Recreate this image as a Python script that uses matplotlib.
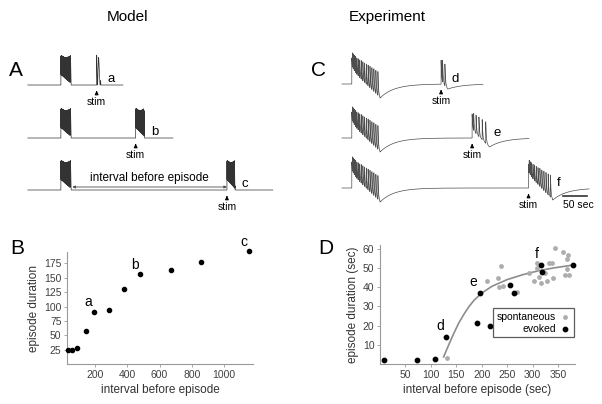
import numpy as np
import matplotlib
matplotlib.use("Agg")
import matplotlib.pyplot as plt

plt.rcParams['font.family'] = ['Liberation Sans', 'DejaVu Sans']

# panel B: model
model_interval = [33, 57, 89, 140, 190, 283, 382, 479, 670, 860, 1155]
model_duration = [25, 25, 27, 58, 90, 94, 131, 156, 164, 178, 196]
model_marks = {'a': 4, 'b': 7, 'c': 10}

# panel D: experiment
evoked_interval = [8, 72, 108, 130, 191, 196, 217, 255, 263, 316, 319, 380]
evoked_duration = [2, 2, 2.5, 14, 21.5, 37, 20, 41, 37, 51.5, 48, 51.5]
evoked_marks = {'d': 3, 'e': 5, 'f': 9}
spont_interval = [131, 210, 231, 237, 234, 242, 270, 293, 302, 308, 309, 313, 316,
                  321, 324, 328, 331, 337, 340, 343, 360, 367, 370, 367, 364, 371]
spont_duration = [3, 43, 45, 51, 40, 40.5, 37.5, 47.5, 43, 52.5, 50, 45.5, 42,
                  48, 47.5, 43, 52.5, 52.5, 45, 60.5, 58.5, 54.5, 57, 49.5, 46.5, 46.5]
fit_interval = [125, 135, 145, 155, 165, 175, 185, 200, 220, 250, 280, 310, 340, 380]
fit_duration = [3.7, 10, 16, 21.5, 26, 30, 33.3, 37, 40.5, 44, 46.5, 48.5, 50, 51.6]

# traces (A: model time units, C: seconds), t=0 is end of first episode
model_spont_len = 75
model_evoked_len = [30, 65, 60]
exp_spont_len = 60

W, H = 602, 404
fig = plt.figure(figsize=(W / 100, H / 100), dpi=100)


def px_axes(x0, y0, x1, y1):
    return fig.add_axes([x0 / W, 1 - y1 / H, (x1 - x0) / W, (y1 - y0) / H])


def model_burst(t, start, dur, period, bot0, bot1, top=30):
    y = np.zeros_like(t)
    m = (t >= start) & (t <= start + dur)
    ph = (t[m] - start) / dur
    osc = 0.5 + 0.5 * np.cos(2 * np.pi * (t[m] - start) / period * (1 - 0.35 * ph))
    bot = top * (bot0 + (bot1 - bot0) * ph)
    y[m] = bot + (top * (1 - 0.08 * np.sin(np.pi * ph)) - bot) * osc
    return y


def exp_episode(t, start, dur, n, amp0, amp1, lev0, lev1, tau_rec=30):
    y = np.zeros_like(t)
    m = (t >= start) & (t <= start + dur)
    ph = (t[m] - start) / dur
    y[m] = lev0 + (lev1 - lev0) * ph
    for k in range(n):
        tk = start + dur * (k / n) ** 1.35
        s = m & (t >= tk)
        a = amp0 + (amp1 - amp0) * k / max(n - 1, 1)
        y[s] += a * np.exp(-(t[s] - tk) / 1.3)
    after = t > start + dur
    y[after] += lev1 * np.exp(-(t[after] - start - dur) / tau_rec)
    return y


# ---- A ----
axA = px_axes(20, 45, 295, 215)
scaleA = 0.135
axA.set_xlim((20 - 71) / scaleA, (295 - 71) / scaleA)
axA.set_ylim(-(215 - 85), 85 - 45)
axA.axis('off')
row_offA = [0, -53, -105]
row_endA = [385, 755, 1495]
for i, lab in enumerate(['a', 'b', 'c']):
    stim = model_interval[model_marks[lab]]
    t = np.arange(-320, row_endA[i], 0.2)
    y = model_burst(t, -model_spont_len, model_spont_len, 2.5, 0.35, 0.05)
    if i == 0:
        y += model_burst(t, stim, model_evoked_len[i], 12, 0.0, 0.0)
    else:
        y += model_burst(t, stim, model_evoked_len[i], 2.5, 0.35, 0.05)
    axA.plot(t, y + row_offA[i], color='0.2', lw=0.5)
    off = row_offA[i]
    axA.annotate('', xy=(stim, off - 3), xytext=(stim, off - 10),
                 arrowprops=dict(arrowstyle='-|>', lw=0.8, color='k', mutation_scale=5))
    axA.text(stim, off - 17, 'stim', fontsize=7.5, ha='center', va='center')
    axA.text(stim + model_evoked_len[i] + 50, off + 6, lab, fontsize=9.5, ha='left', va='center')
axA.annotate('', xy=(10, row_offA[2] + 3), xytext=(model_interval[10], row_offA[2] + 3),
             arrowprops=dict(arrowstyle='<|-|>', lw=0.6, color='0.3', mutation_scale=4,
                             shrinkA=0, shrinkB=0))
axA.text((10 + model_interval[10]) / 2, row_offA[2] + 12, 'interval before episode',
         fontsize=8.5, ha='center', va='center')

# ---- C ----
axC = px_axes(300, 45, 602, 215)
scaleC = 0.47
axC.set_xlim((300 - 380) / scaleC, (602 - 380) / scaleC)
axC.set_ylim(-(215 - 84), 84 - 45)
axC.axis('off')
row_offC = [0, -54, -104]
row_endC = [219, 317, 445]
for i, lab in enumerate(['d', 'e', 'f']):
    k = evoked_marks[lab]
    stim = evoked_interval[k]
    dur = evoked_duration[k]
    t = np.arange(-81, row_endC[i], 0.04)
    y = exp_episode(t, -exp_spont_len, exp_spont_len, 18, 14, 24, 12, -14)
    n = [3, 6, 14][i]
    lev1 = [-5, -9, -12][i]
    lev0 = [2, 8, 12][i]
    y += exp_episode(t, stim, dur, n, 24 - lev0, 22, lev0, lev1)
    off = row_offC[i]
    axC.plot(t, y + off, color='0.3', lw=0.5)
    axC.annotate('', xy=(stim, off - 3), xytext=(stim, off - 10),
                 arrowprops=dict(arrowstyle='-|>', lw=0.8, color='k', mutation_scale=5))
    axC.text(stim, off - 17, 'stim', fontsize=7.5, ha='center', va='center')
    axC.text(stim + dur + 8, off + 5, lab, fontsize=9.5, ha='left', va='center')
axC.plot([390, 440], [row_offC[2] - 8, row_offC[2] - 8], color='0.2', lw=1.2)
axC.text(390, row_offC[2] - 17, '50 sec', fontsize=7.5, ha='left', va='center')

# ---- B ----
axB = px_axes(67, 252, 253, 364)
axB.scatter(model_interval, model_duration, s=9, color='k', zorder=3, clip_on=False)
for lab, k in model_marks.items():
    axB.text(model_interval[k] - 10, model_duration[k] + 5, lab, fontsize=10,
             ha='right', va='bottom')
axB.set_xlim(25, 1180)
axB.set_ylim(0, 195)
axB.set_xticks([200, 400, 600, 800, 1000])
axB.set_yticks([25, 50, 75, 100, 125, 150, 175])
axB.set_xlabel('interval before episode', fontsize=8.5, color='0.2', labelpad=3)
axB.set_ylabel('episode duration', fontsize=8.5, color='0.2', labelpad=3)

# ---- D ----
axD = px_axes(380, 245, 575, 364)
axD.plot(fit_interval, fit_duration, color='0.55', lw=1.2, zorder=2)
axD.scatter(spont_interval, spont_duration, s=6, color='0.68', zorder=3,
            label='spontaneous', clip_on=False)
axD.scatter(evoked_interval, evoked_duration, s=10, color='k', zorder=4,
            label='evoked', clip_on=False)
for lab, k in evoked_marks.items():
    axD.text(evoked_interval[k] - 5, evoked_duration[k] + 2, lab, fontsize=10,
             ha='right', va='bottom')
axD.set_xlim(0, 383)
axD.set_ylim(0, 62)
axD.set_xticks([50, 100, 150, 200, 250, 300, 350])
axD.set_yticks([10, 20, 30, 40, 50, 60])
axD.set_xlabel('interval before episode (sec)', fontsize=8.5, color='0.2', labelpad=3)
axD.set_ylabel('episode duration (sec)', fontsize=8.5, color='0.2', labelpad=3)
leg = axD.legend(loc='lower right', bbox_to_anchor=(0.995, 0.224), borderaxespad=0,
                 markerfirst=False, fontsize=7.5, frameon=True, fancybox=False,
                 handletextpad=0.4, borderpad=0.35, labelspacing=0.15, handlelength=1.0,
                 scatterpoints=1)
leg.get_frame().set_edgecolor('0.2')
leg.get_frame().set_linewidth(0.9)

for ax in (axB, axD):
    for s in ('top', 'right'):
        ax.spines[s].set_visible(False)
    for s in ('left', 'bottom'):
        ax.spines[s].set_color('0.6')
        ax.spines[s].set_linewidth(0.8)
    ax.tick_params(labelsize=7.5, colors='0.25', length=2, width=0.6, pad=2)
    ax.tick_params(axis='both', color='0.6')

fig.text(128 / W, 1 - 17 / H, 'Model', fontsize=11, ha='center', va='center')
fig.text(387 / W, 1 - 17 / H, 'Experiment', fontsize=11, ha='center', va='center')
for lab, (x, y) in {'A': (16, 70), 'B': (17, 249), 'C': (318, 70), 'D': (326, 249)}.items():
    fig.text(x / W, 1 - y / H, lab, fontsize=15, ha='center', va='center')

fig.savefig('out.png', dpi=100)
